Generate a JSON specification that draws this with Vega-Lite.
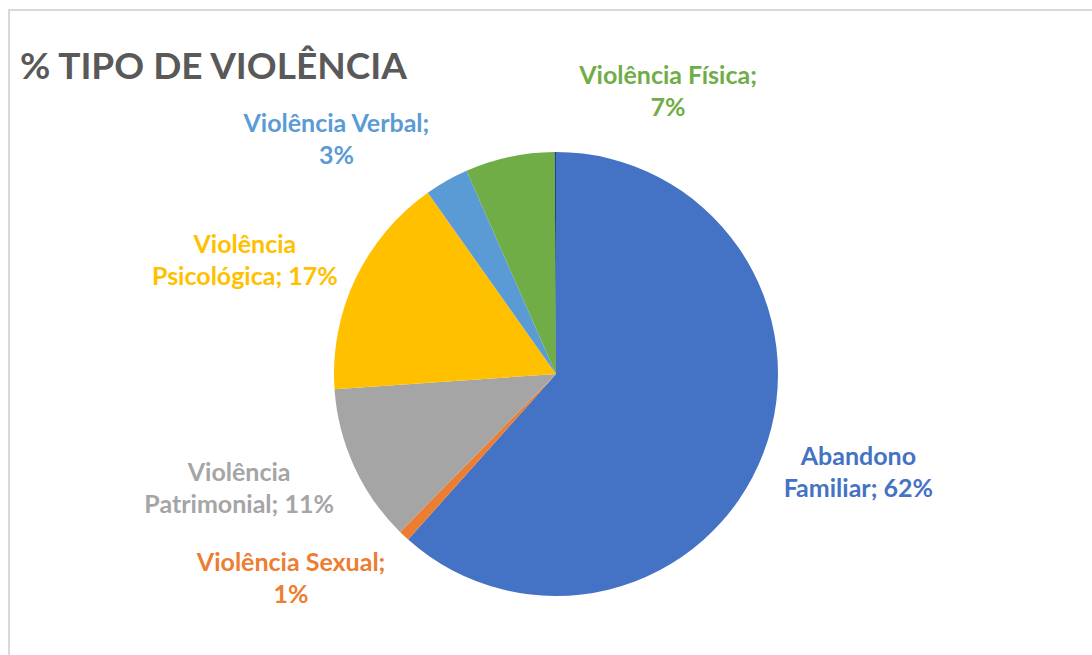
{
  "$schema": "https://vega.github.io/schema/vega-lite/v6.json",
  "width": 1094,
  "height": 728,
  "autosize": "none",
  "padding": {"left": 9, "top": 10, "right": 0, "bottom": 0},
  "background": "white",
  "config": {"view": {"stroke": null}},
  "title": {
    "text": "% TIPO DE VIOLÊNCIA",
    "anchor": "start",
    "frame": "group",
    "orient": "top",
    "offset": 0,
    "dy": 107,
    "dx": 11,
    "font": "Lato",
    "fontWeight": "bold",
    "fontSize": 37,
    "color": "#595959"
  },
  "datasets": {
    "fatias": [
      {"categoria": "Abandono Familiar", "valor": 61.6, "ord": 1, "rotulo": "Abandono\nFamiliar; 62%"},
      {"categoria": "Violência Sexual", "valor": 0.8, "ord": 2, "rotulo": "Violência Sexual;\n1%"},
      {"categoria": "Violência Patrimonial", "valor": 11.5, "ord": 3, "rotulo": "Violência\nPatrimonial; 11%"},
      {"categoria": "Violência Psicológica", "valor": 16.3, "ord": 4, "rotulo": "Violência\nPsicológica; 17%"},
      {"categoria": "Violência Verbal", "valor": 3.2, "ord": 5, "rotulo": "Violência Verbal;\n3%"},
      {"categoria": "Violência Física", "valor": 6.5, "ord": 6, "rotulo": "Violência Física;\n7%"},
      {"categoria": "Outros", "valor": 0.1, "ord": 7, "rotulo": ""}
    ],
    "moldura": [{"item": "moldura"}]
  },
  "data": {"name": "fatias"},
  "layer": [
    {
      "data": {"name": "moldura"},
      "mark": {"type": "rect", "fill": "transparent", "stroke": "#d9d9d9", "strokeWidth": 2},
      "encoding": {}
    },
    {
      "mark": {"type": "arc", "outerRadius": 222},
      "encoding": {
        "theta": {"field": "valor", "type": "quantitative", "stack": true},
        "order": {"field": "ord", "type": "quantitative"},
        "color": {
          "field": "categoria",
          "type": "nominal",
          "scale": {
            "domain": ["Abandono Familiar", "Violência Sexual", "Violência Patrimonial", "Violência Psicológica", "Violência Verbal", "Violência Física", "Outros"],
            "range": ["#4472C4", "#ED7D31", "#A5A5A5", "#FFC000", "#5B9BD5", "#70AD47", "#264478"]
          },
          "legend": null
        }
      }
    },
    {
      "mark": {"type": "text", "radius": 330, "dx": -6, "dy": -35, "font": "Lato", "fontWeight": "bold", "fontSize": 25, "lineHeight": 32, "lineBreak": "\n", "align": "center", "baseline": "middle"},
      "encoding": {
        "theta": {"field": "valor", "type": "quantitative", "stack": true},
        "order": {"field": "ord", "type": "quantitative"},
        "color": {"field": "categoria", "type": "nominal", "legend": null},
        "text": {"condition": {"test": "datum.categoria == 'Abandono Familiar'", "field": "rotulo"}, "value": ""}
      }
    },
    {
      "mark": {"type": "text", "radius": 330, "dx": -39, "dy": -52, "font": "Lato", "fontWeight": "bold", "fontSize": 25, "lineHeight": 32, "lineBreak": "\n", "align": "center", "baseline": "middle"},
      "encoding": {
        "theta": {"field": "valor", "type": "quantitative", "stack": true},
        "order": {"field": "ord", "type": "quantitative"},
        "color": {"field": "categoria", "type": "nominal", "legend": null},
        "text": {"condition": {"test": "datum.categoria == 'Violência Sexual'", "field": "rotulo"}, "value": ""}
      }
    },
    {
      "mark": {"type": "text", "radius": 330, "dx": -17, "dy": -39, "font": "Lato", "fontWeight": "bold", "fontSize": 25, "lineHeight": 32, "lineBreak": "\n", "align": "center", "baseline": "middle"},
      "encoding": {
        "theta": {"field": "valor", "type": "quantitative", "stack": true},
        "order": {"field": "ord", "type": "quantitative"},
        "color": {"field": "categoria", "type": "nominal", "legend": null},
        "text": {"condition": {"test": "datum.categoria == 'Violência Patrimonial'", "field": "rotulo"}, "value": ""}
      }
    },
    {
      "mark": {"type": "text", "radius": 330, "dx": -13, "dy": 12, "font": "Lato", "fontWeight": "bold", "fontSize": 25, "lineHeight": 32, "lineBreak": "\n", "align": "center", "baseline": "middle"},
      "encoding": {
        "theta": {"field": "valor", "type": "quantitative", "stack": true},
        "order": {"field": "ord", "type": "quantitative"},
        "color": {"field": "categoria", "type": "nominal", "legend": null},
        "text": {"condition": {"test": "datum.categoria == 'Violência Psicológica'", "field": "rotulo"}, "value": ""}
      }
    },
    {
      "mark": {"type": "text", "radius": 330, "dx": -57, "dy": 37, "font": "Lato", "fontWeight": "bold", "fontSize": 25, "lineHeight": 32, "lineBreak": "\n", "align": "center", "baseline": "middle"},
      "encoding": {
        "theta": {"field": "valor", "type": "quantitative", "stack": true},
        "order": {"field": "ord", "type": "quantitative"},
        "color": {"field": "categoria", "type": "nominal", "legend": null},
        "text": {"condition": {"test": "datum.categoria == 'Violência Verbal'", "field": "rotulo"}, "value": ""}
      }
    },
    {
      "mark": {"type": "text", "radius": 330, "dx": 181, "dy": 25, "font": "Lato", "fontWeight": "bold", "fontSize": 25, "lineHeight": 32, "lineBreak": "\n", "align": "center", "baseline": "middle"},
      "encoding": {
        "theta": {"field": "valor", "type": "quantitative", "stack": true},
        "order": {"field": "ord", "type": "quantitative"},
        "color": {"field": "categoria", "type": "nominal", "legend": null},
        "text": {"condition": {"test": "datum.categoria == 'Violência Física'", "field": "rotulo"}, "value": ""}
      }
    }
  ]
}
